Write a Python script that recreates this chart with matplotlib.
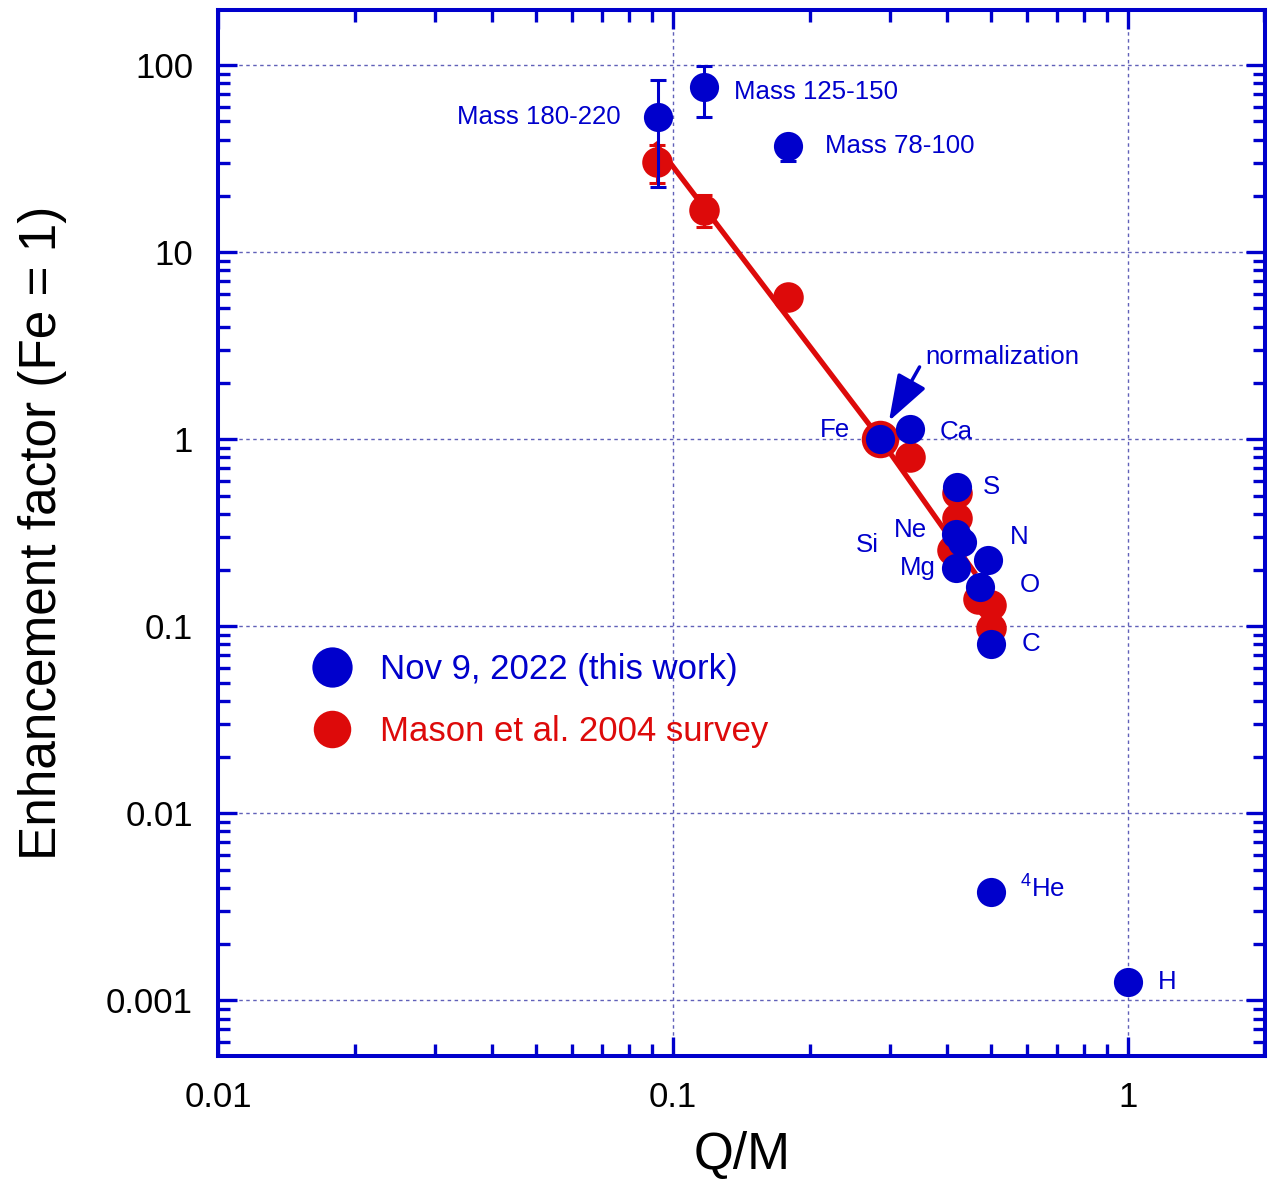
import numpy as np
import matplotlib
matplotlib.use('Agg')
import matplotlib.pyplot as plt
from matplotlib import ticker
from matplotlib.lines import Line2D

plt.rcParams['font.family'] = ['Liberation Sans', 'DejaVu Sans']
plt.rcParams['mathtext.fontset'] = 'custom'
plt.rcParams['mathtext.rm'] = 'Liberation Sans'

BLUE = '#0000cc'
RED = '#dd0a0a'

# Nov 9, 2022 event: enhancement relative to Fe vs charge-to-mass ratio
ion_names = ['Mass 180-220', 'Mass 125-150', 'Mass 78-100', 'Fe', 'Ca', 'S',
             'Ne', 'Si', 'Mg', 'N', 'O', 'C', r'$^{\mathregular{4}}$He', 'H']
ion_qm = [0.0927, 0.117, 0.179, 0.286, 0.332, 0.421,
          0.419, 0.433, 0.419, 0.492, 0.473, 0.50, 0.50, 1.0]
ion_enh = [52.7, 76.3, 36.9, 1.0, 1.13, 0.553,
           0.31, 0.282, 0.204, 0.225, 0.162, 0.080, 0.00379, 0.00125]

# error bars on the heavy mass groups (first three ions)
heavy_lo = [22.4, 53.0, 30.8]
heavy_hi = [83.0, 99.0, 42.0]

# Mason et al. 2004 survey
mason_qm = [0.0924, 0.117, 0.179, 0.332, 0.421, 0.421, 0.412, 0.47, 0.50, 0.50]
mason_enh = [30.3, 16.8, 5.74, 0.80, 0.514, 0.38, 0.255, 0.14, 0.13, 0.098]
mason_lo = [23.5, 13.6]
mason_hi = [37.3, 20.2]
fe_qm = 0.286
fe_enh = 1.0

# power-law fit through the survey
fit_qm = [0.092, 0.286, 0.46]
fit_enh = [37.5, 1.0, 0.195]

# label placement (offset points, alignment)
label_pos = {
    'Mass 180-220': (-27, 0, 'right'),
    'Mass 125-150': (22, -3.6, 'left'),
    'Mass 78-100': (26.6, 0, 'left'),
    'Fe': (-22, 6.5, 'right'),
    'Ca': (21.6, -2, 'left'),
    'S': (19, 0, 'left'),
    'Ne': (-21, 3, 'right'),
    'Si': (-60, -2, 'right'),
    'Mg': (-14.4, 0, 'right'),
    'N': (16, 16.5, 'left'),
    'O': (29, 1.5, 'left'),
    'C': (22, 0, 'left'),
    r'$^{\mathregular{4}}$He': (21, 3.6, 'left'),
    'H': (22, 0, 'left'),
}

fig = plt.figure(figsize=(12.68, 11.83), dpi=100)
ax = fig.add_axes([0.172, 0.107, 0.826, 0.8845])
ax.set_xscale('log')
ax.set_yscale('log')
ax.set_xlim(0.01, 2.01)
ax.set_ylim(0.000502, 196.8)

ax.grid(which='major', color='#6060b8', lw=1.0, ls=(0, (2.5, 2.5)), zorder=0)

ax.plot(fit_qm, fit_enh, color=RED, lw=3.8, zorder=2)

# survey points
m_err = [np.array(mason_enh[:2]) - np.array(mason_lo),
         np.array(mason_hi) - np.array(mason_enh[:2])]
ax.errorbar(mason_qm[:2], mason_enh[:2], yerr=m_err, fmt='none',
            ecolor=RED, elinewidth=2.2, capsize=5.5, capthick=2.2, zorder=3)
ax.plot(mason_qm, mason_enh, 'o', color=RED, ms=22, mec='none', zorder=3)
ax.plot([fe_qm], [fe_enh], 'o', color=RED, ms=27, mec='none', zorder=3)

# this event
h_err = [np.array(ion_enh[:3]) - np.array(heavy_lo),
         np.array(heavy_hi) - np.array(ion_enh[:3])]
ax.errorbar(ion_qm[:3], ion_enh[:3], yerr=h_err, fmt='none',
            ecolor=BLUE, elinewidth=2.2, capsize=5.5, capthick=2.2, zorder=4)
ax.plot(ion_qm, ion_enh, 'o', color=BLUE, ms=21, mec='none', zorder=5)

for name, x, y in zip(ion_names, ion_qm, ion_enh):
    dx, dy, ha = label_pos[name]
    ax.annotate(name, xy=(x, y), xytext=(dx, dy), textcoords='offset points',
                ha=ha, va='center', color=BLUE, fontsize=18.6, zorder=6)

ax.annotate('normalization', xy=(0.2987, 1.25), xytext=(26, 46),
            textcoords='offset points', ha='left', va='center',
            color=BLUE, fontsize=18.6,
            arrowprops=dict(arrowstyle='-|>,head_length=1.3,head_width=0.45',
                            color=BLUE, lw=2.5, mutation_scale=22,
                            shrinkA=4, shrinkB=0, relpos=(0, 0.5)))

handles = [Line2D([], [], marker='o', ls='none', color=BLUE, mec='none', ms=29),
           Line2D([], [], marker='o', ls='none', color=RED, mec='none', ms=27)]
ax.legend(handles, ['Nov 9, 2022 (this work)', 'Mason et al. 2004 survey'],
          loc='center left', bbox_to_anchor=(0.092, 0.340), frameon=False,
          fontsize=25, handlelength=1.0, handletextpad=0.88, borderpad=0,
          borderaxespad=0, labelspacing=0.85, labelcolor='markerfacecolor')

fmt = ticker.FuncFormatter(lambda v, _: f'{v:g}')
for axis in (ax.xaxis, ax.yaxis):
    axis.set_major_locator(ticker.LogLocator(base=10, numticks=20))
    axis.set_minor_locator(ticker.LogLocator(base=10, subs=np.arange(2, 10), numticks=20))
    axis.set_major_formatter(fmt)
    axis.set_minor_formatter(ticker.NullFormatter())

ax.tick_params(which='both', direction='in', top=True, right=True,
               color=BLUE, width=2.4, labelsize=25, labelcolor='black', pad=18)
ax.tick_params(which='major', length=14)
ax.tick_params(which='minor', length=8.5)
for sp in ax.spines.values():
    sp.set_color(BLUE)
    sp.set_linewidth(2.9)

ax.set_xlabel('Q/M', fontsize=37, labelpad=12)
ax.set_ylabel('Enhancement factor (Fe = 1)', fontsize=37, labelpad=28)

fig.savefig('out.png', dpi=100)
